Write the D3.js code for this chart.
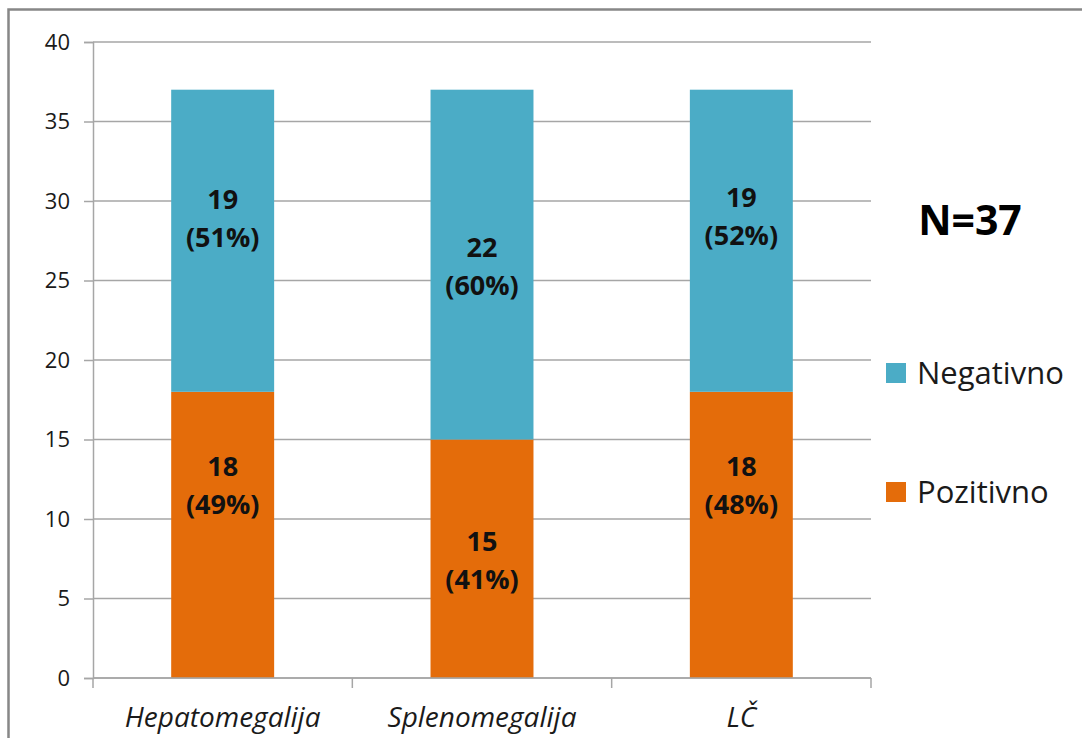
<!DOCTYPE html>
<html>
<head>
<meta charset="utf-8">
<script src="https://cdn.jsdelivr.net/npm/d3@7"></script>
<style>
  html, body { margin: 0; padding: 0; background: #fff; }
  svg { display: block; }
</style>
</head>
<body>
<svg id="chart" width="1082" height="738"></svg>
<script>
// ---- data ----
const categories = ["Hepatomegalija", "Splenomegalija", "LČ"];
const seriesNames = ["Pozitivno", "Negativno"];
const pozitivno = [18, 15, 18];
const negativno = [19, 22, 19];
const pozitivnoPct = ["49%", "41%", "48%"];
const negativnoPct = ["51%", "60%", "52%"];
// label anchor values (in data units), as placed in the original
const pozitivnoLabelAt = [12.1, 7.4, 12.1];
const negativnoLabelAt = [28.9, 25.9, 29.0];
const yTicks = [0, 5, 10, 15, 20, 25, 30, 35, 40];
const annotation = "N=37";

const colors = { Pozitivno: "#E46C0A", Negativno: "#4BACC6" };
const font = "'Open Sans', Lato, sans-serif";

const svg = d3.select("#chart");

// outer frame
svg.append("rect")
  .attr("x", 8.5).attr("y", 9.5)
  .attr("width", 1100).attr("height", 760)
  .attr("fill", "none").attr("stroke", "#878787").attr("stroke-width", 2.5);

const x = d3.scaleBand().domain(categories).range([93, 871]).padding(0);
const y = d3.scaleLinear().domain([0, 40]).range([678, 42]);

// gridlines
svg.append("g").selectAll("line").data(yTicks).join("line")
  .attr("x1", 93).attr("x2", 871)
  .attr("y1", d => y(d)).attr("y2", d => y(d))
  .attr("stroke", "#a6a6a6").attr("stroke-width", 1.5);

// stacked bars
const rows = categories.map((c, i) => ({ cat: c, Pozitivno: pozitivno[i], Negativno: negativno[i] }));
const stack = d3.stack().keys(seriesNames)(rows);
const barW = x.bandwidth() * 0.397;

svg.append("g").selectAll("g").data(stack).join("g")
  .attr("fill", d => colors[d.key])
  .selectAll("rect").data(d => d).join("rect")
  .attr("x", d => x(d.data.cat) + (x.bandwidth() - barW) / 2)
  .attr("y", d => y(d[1]))
  .attr("width", barW)
  .attr("height", d => y(d[0]) - y(d[1]));

// y axis
const yAxis = d3.axisLeft(y).tickValues(yTicks).tickSize(9).tickPadding(14);
const gy = svg.append("g").attr("transform", "translate(93,0)").call(yAxis);
gy.select(".domain").attr("stroke", "#a6a6a6").attr("stroke-width", 1.5);
gy.selectAll(".tick line").attr("stroke", "#a6a6a6").attr("stroke-width", 1.5);
gy.selectAll(".tick text").attr("font-family", font).attr("font-size", 22).attr("fill", "#1a1a1a");

// x axis
const gx = svg.append("g").attr("transform", `translate(0,${y(0)})`);
gx.append("line").attr("x1", 93).attr("x2", 871).attr("y1", 0).attr("y2", 0)
  .attr("stroke", "#a6a6a6").attr("stroke-width", 1.5);
const bounds = categories.map(c => x(c)).concat([x.range()[1]]);
gx.selectAll("line.tk").data(bounds).join("line").attr("class", "tk")
  .attr("x1", d => d).attr("x2", d => d).attr("y1", 0).attr("y2", 10)
  .attr("stroke", "#a6a6a6").attr("stroke-width", 1.5);
gx.selectAll("text").data(categories).join("text")
  .attr("x", d => x(d) + x.bandwidth() / 2)
  .attr("y", 49)
  .attr("text-anchor", "middle")
  .attr("font-family", font).attr("font-style", "italic").attr("font-size", 28)
  .attr("fill", "#1a1a1a")
  .text(d => d);

// data labels
function addLabels(vals, pcts, at) {
  const g = svg.append("g");
  categories.forEach((c, i) => {
    const cx = x(c) + x.bandwidth() / 2;
    const cy = y(at[i]);
    const t = g.append("text")
      .attr("text-anchor", "middle")
      .attr("font-family", font).attr("font-weight", "bold").attr("font-size", 27)
      .attr("fill", "#111");
    t.append("tspan").attr("x", cx).attr("y", cy - 19).attr("dy", "0.35em").text(vals[i]);
    t.append("tspan").attr("x", cx).attr("y", cy + 19).attr("dy", "0.35em").text("(" + pcts[i] + ")");
  });
}
addLabels(negativno, negativnoPct, negativnoLabelAt);
addLabels(pozitivno, pozitivnoPct, pozitivnoLabelAt);

// annotation
svg.append("text").attr("x", 970).attr("y", 221).attr("dy", "0.35em")
  .attr("text-anchor", "middle")
  .attr("font-family", font).attr("font-weight", "bold").attr("font-size", 41)
  .attr("fill", "#000").text(annotation);

// legend (Negativno on top)
const legendItems = ["Negativno", "Pozitivno"];
const lg = svg.append("g").selectAll("g").data(legendItems).join("g")
  .attr("transform", (d, i) => `translate(886,${373 + i * 119})`);
lg.append("rect").attr("x", 0).attr("y", -10).attr("width", 20).attr("height", 20)
  .attr("fill", d => colors[d]);
lg.append("text").attr("x", 31).attr("y", 0).attr("dy", "0.35em")
  .attr("font-family", font).attr("font-size", 31).attr("fill", "#1a1a1a")
  .text(d => d);
</script>
</body>
</html>
